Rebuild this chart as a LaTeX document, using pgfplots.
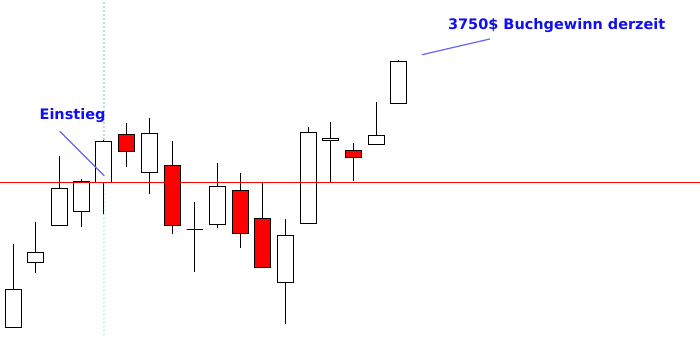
\documentclass[border=0pt]{standalone}
\usepackage{fontspec}
\setmainfont{DejaVu Sans}
\usepackage{pgfplots}
\pgfplotsset{compat=1.18}
\usepgfplotslibrary{statistics}
\definecolor{annblue}{RGB}{15,15,240}
\definecolor{lineblue}{RGB}{100,100,250}
\definecolor{dotgray}{RGB}{195,215,222}
\definecolor{candlered}{RGB}{255,0,0}
\pgfplotsset{
  candle/.style={black, line width=1bp, solid},
  up/.style={candle, fill=white},
  down/.style={candle, fill=candlered},
}
\newcommand{\candle}[6]{% style, x, low, bodylow, bodyhigh, high
  \addplot[#1, boxplot prepared={draw position=#2, lower whisker=#3, lower quartile=#4, median=#4, upper quartile=#5, upper whisker=#6, box extend=16, whisker extend=0}] coordinates {};
}
\begin{document}
\begin{tikzpicture}
\begin{axis}[
  scale only axis, width=700bp, height=335bp,
  xmin=0, xmax=700, ymin=0, ymax=335,
  hide axis, clip=false,
  boxplot/draw direction=y,
]
% entry marker (dotted vertical)
\addplot[dotgray, line width=1.5bp, dash pattern=on 1.5bp off 2.5bp] coordinates {(103.5,0) (103.5,335)};
% candles: x, low, body low, body high, high
\candle{up}{13}{8}{8}{46}{91}
\candle{up}{35.3}{62}{73}{83}{113}
\candle{up}{58.7}{110}{110}{147}{180}
\candle{up}{81.3}{108}{124}{154}{156}
\candle{up}{103.3}{121}{153}{194}{196}
\candle{down}{126.3}{169}{184}{201}{213}
\candle{up}{149.3}{141}{163}{202}{218}
\candle{down}{172.3}{101}{110}{170}{195}
\candle{up}{194.3}{63}{106}{106}{133}
\candle{up}{217.3}{107}{111}{149}{173}
\candle{down}{240.3}{87}{102}{145}{163}
\candle{down}{262.3}{68}{68}{117}{153}
\candle{up}{285.3}{11}{53}{100}{116}
\candle{up}{308.3}{112}{112}{203}{209}
\candle{up}{330.3}{153}{195}{197}{214}
\candle{down}{353.3}{154}{178}{185}{193}
\candle{up}{376.3}{191}{191}{200}{234}
\candle{up}{398.3}{232}{232}{274}{276}
% entry level
\addplot[candlered, line width=1bp] coordinates {(0,153) (700,153)};
% annotations
\addplot[lineblue, line width=1.2bp] coordinates {(59.3,204.3) (104,159.7)};
\addplot[lineblue, line width=1.2bp] coordinates {(422.3,281) (490,296.7)};
\node[anchor=base west, inner sep=0pt, text=annblue, font=\bfseries\fontsize{14.5bp}{16bp}\selectfont] at (axis cs:39,215.7) {Einstieg};
\node[anchor=base west, inner sep=0pt, text=annblue, font=\bfseries\fontsize{14.5bp}{16bp}\selectfont] at (axis cs:448,306.7) {3750\$ Buchgewinn derzeit};
\end{axis}
\end{tikzpicture}
\end{document}
